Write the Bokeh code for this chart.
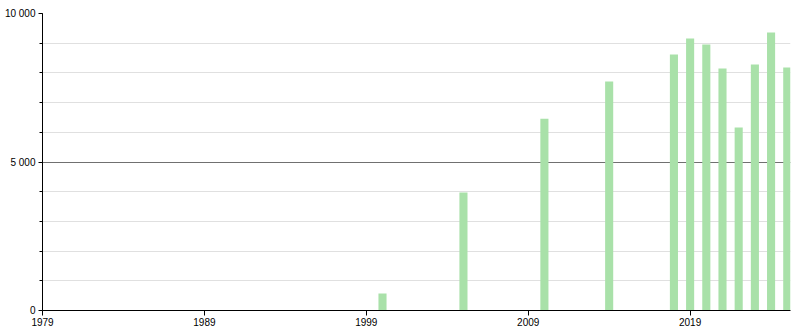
from bokeh.plotting import figure
from bokeh.models import FixedTicker, Range1d
from bokeh.embed import file_html
from bokeh.resources import INLINE

years = [2000, 2005, 2010, 2014, 2018, 2019, 2020, 2021, 2022, 2023, 2024, 2025]
values = [570, 3970, 6460, 7710, 8620, 9160, 8960, 8150, 6160, 8280, 9360, 8180]
x_ticks = [1979, 1989, 1999, 2009, 2019]
y_ticks = [0, 5000, 10000]
y_labels = {0: "0", 5000: "5 000", 10000: "10 000"}
y_minor = list(range(0, 10001, 1000))

p = figure(width=800, height=330, output_backend="svg", toolbar_location=None,
           x_range=Range1d(1979, 2025.2), y_range=Range1d(0, 10000),
           min_border_left=42, min_border_right=10, min_border_top=13, min_border_bottom=20)
p.outline_line_color = None
p.background_fill_color = "white"
p.border_fill_color = "white"

p.vbar(x=years, top=values, width=0.5, bottom=0, fill_color="#a9e1a9", line_color=None)

font = "Liberation Sans"
p.xaxis.ticker = FixedTicker(ticks=x_ticks)
p.xaxis.minor_tick_line_color = None
p.xaxis.major_tick_in = 0
p.xaxis.major_tick_out = 5
p.xaxis.axis_line_color = "black"
p.xaxis.major_tick_line_color = "black"
p.xaxis.major_label_text_font = font
p.xaxis.major_label_text_font_size = "10px"
p.xaxis.major_label_text_color = "black"
p.xaxis.major_label_standoff = 2

p.yaxis.ticker = FixedTicker(ticks=y_ticks, minor_ticks=y_minor)
p.yaxis.major_label_overrides = y_labels
p.yaxis.major_tick_in = 0
p.yaxis.major_tick_out = 4
p.yaxis.minor_tick_in = 0
p.yaxis.minor_tick_out = 3
p.yaxis.axis_line_color = "black"
p.yaxis.major_tick_line_color = "black"
p.yaxis.minor_tick_line_color = "black"
p.yaxis.major_label_text_font = font
p.yaxis.major_label_text_font_size = "10px"
p.yaxis.major_label_text_color = "black"
p.yaxis.major_label_standoff = 3

p.xgrid.grid_line_color = None
p.ygrid.ticker = FixedTicker(ticks=y_ticks, minor_ticks=y_minor)
p.ygrid.grid_line_color = "#707070"
p.ygrid.minor_grid_line_color = "#e0e0e0"

open("out.html", "w").write(file_html(p, INLINE))
